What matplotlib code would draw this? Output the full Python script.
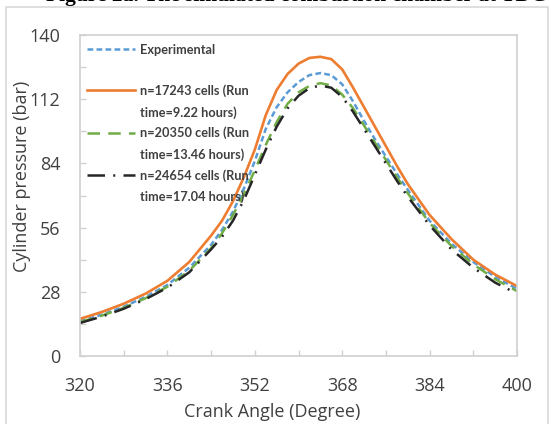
import numpy as np
import matplotlib
matplotlib.use("Agg")
import matplotlib.pyplot as plt
from matplotlib.patches import Rectangle
from matplotlib.ticker import MultipleLocator
from matplotlib.legend_handler import HandlerLine2D

# crank angle (deg) and cylinder pressure (bar)
angle = [320, 324, 328, 332, 336, 340, 344, 346, 348, 350, 352, 354, 356, 358, 360,
         362, 364, 366, 368, 370, 372, 374, 376, 378, 380, 384, 388, 392, 396, 400]
p_exp = [15.2, 18, 21.5, 25.8, 31, 38.5, 48.5, 55, 63, 73, 85, 99, 108.5, 115, 119.5,
         122.5, 123.4, 122.5, 118.5, 111, 102.5, 94.5, 87, 79.5, 72.5, 59, 49, 41, 34.5, 29.3]
p_17243 = [16.2, 19.2, 22.8, 27.2, 32.8, 41, 52.5, 59, 67.5, 78, 90, 105, 116, 123, 127.5,
           130, 130.5, 129.5, 125, 117, 108.5, 100, 91.5, 83, 75, 61.5, 51, 42, 35.5, 30.5]
p_20350 = [14.8, 17.6, 21, 25.2, 30.2, 37.2, 47, 53.5, 61.5, 70.5, 81, 92, 102, 110, 115,
           117.8, 119, 118, 114, 108, 100.5, 93, 85.5, 78, 71, 58, 48, 40, 33.5, 28.3]
p_24654 = [14.4, 17.2, 20.6, 24.8, 29.8, 36.5, 46.5, 52, 59, 68, 79, 90, 100, 108, 113.5,
           116.8, 118, 117, 113, 106.5, 99, 91.5, 84, 76.5, 69.5, 57, 46.5, 38.5, 32, 27.2]

# every legend entry takes two lines, like in the original
labels = ["Experimental\n ",
          "n=17243 cells (Run\ntime=9.22 hours)",
          "n=20350 cells (Run\ntime=13.46 hours)",
          "n=24654 cells (Run\ntime=17.04 hours)"]

x_ticks = [320, 336, 352, 368, 384, 400]
y_ticks = [0, 28, 56, 84, 112, 140]

txt = "#404040"
grey = "#D0D0D0"
leg_size = 9.2
leg_linesp = 1.85


# legend line drawn level with the first text line instead of the middle
class TopLineHandler(HandlerLine2D):
    def __init__(self, shift, **kw):
        super().__init__(**kw)
        self.shift = shift

    def create_artists(self, legend, orig_handle, xdescent, ydescent, width, height,
                       fontsize, trans):
        arts = super().create_artists(legend, orig_handle, xdescent, ydescent, width,
                                      height, fontsize, trans)
        for a in arts:
            a.set_ydata(np.asarray(a.get_ydata()) + self.shift)
        return arts


fig = plt.figure(figsize=(5.51, 4.24), dpi=100)

# caption cut off at the top of the image
fig.text(296 / 551, 1 - 1.5 / 424, "Figure 2a. The simulated combustion chamber at TDC",
         ha="center", va="baseline", fontsize=15.5, fontweight="bold",
         family="Liberation Serif", color="black")
# outer chart frame
fig.patches.append(Rectangle((6 / 551, -0.02), 542 / 551, 1 - 7 / 424 + 0.02,
                             transform=fig.transFigure, fill=False,
                             edgecolor="#D9D9D9", lw=1.2))

ax = fig.add_axes([80 / 551, (424 - 356) / 424, 437 / 551, 321 / 424])

ax.plot(angle, p_exp, color="#5B9BD5", lw=1.8, dashes=(2.3, 1.3), label=labels[0])
ax.plot(angle, p_17243, color="#ED7D31", lw=1.9, label=labels[1])
ax.plot(angle, p_20350, color="#70AD47", lw=1.8, dashes=(5, 3.3), label=labels[2])
ax.plot(angle, p_24654, color="#262626", lw=1.8, dashes=(7, 3.3, 0.8, 3.3), label=labels[3])

ax.set_xlim(320, 400)
ax.set_ylim(0, 140)
ax.set_xticks(x_ticks)
ax.set_yticks(y_ticks)
ax.xaxis.set_minor_locator(MultipleLocator(8))
ax.yaxis.set_minor_locator(MultipleLocator(14))
ax.tick_params(which="both", direction="in", length=4, width=1, color=grey,
               labelsize=13, labelcolor=txt)
ax.tick_params(axis="x", pad=15)
ax.tick_params(axis="y", pad=14)
for lab in ax.get_xticklabels() + ax.get_yticklabels():
    lab.set_family("Open Sans")
for s in ax.spines.values():
    s.set_color(grey)
    s.set_linewidth(1.2)

ax.set_xlabel("Crank Angle (Degree)", fontsize=13, color=txt, family="Open Sans")
ax.set_ylabel("Cylinder pressure (bar)", fontsize=13, color=txt, family="Open Sans")
ax.xaxis.set_label_coords(0.44, -0.145)
ax.yaxis.set_label_coords(-0.112, 0.56)

handler = TopLineHandler(shift=0.5 * leg_linesp * leg_size * 0.98)
leg = ax.legend(loc="upper left", bbox_to_anchor=(-0.005, 1.0), frameon=False,
                prop={"family": "Lato", "weight": "bold", "size": leg_size},
                handlelength=3.75, handletextpad=0.4, labelspacing=0.62,
                borderaxespad=0.3,
                handler_map={l: handler for l in ax.get_lines()})
for t in leg.get_texts():
    t.set_color(txt)
    t.set_linespacing(leg_linesp)

fig.savefig("out.png", dpi=100)
